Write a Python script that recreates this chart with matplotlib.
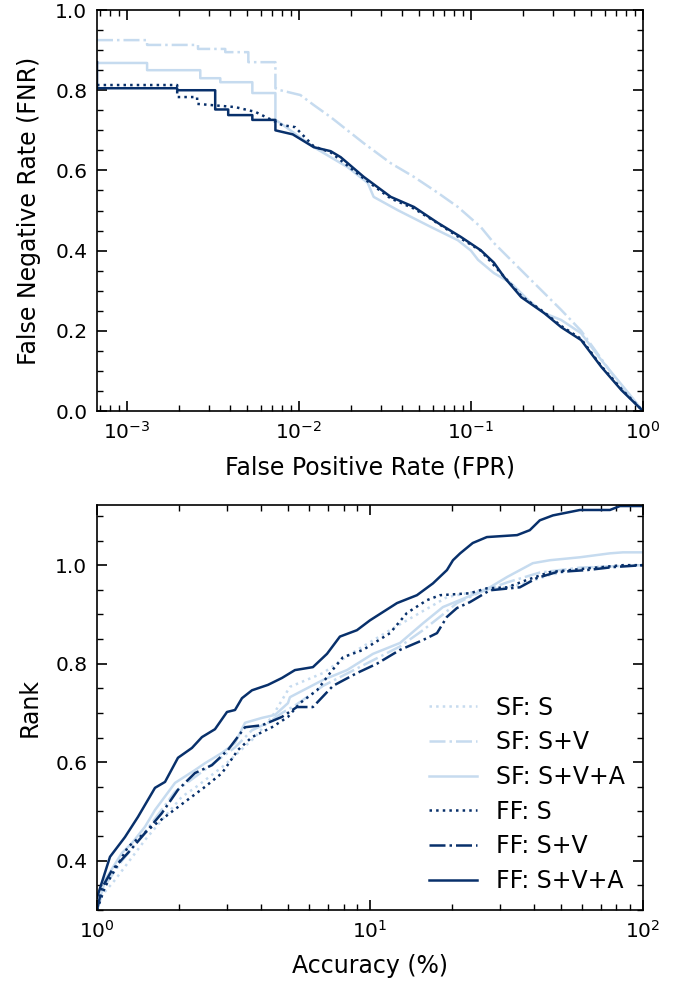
import matplotlib
matplotlib.use('Agg')
import matplotlib.pyplot as plt
from matplotlib.ticker import MultipleLocator

light = '#c6dbef'
dark = '#08306b'

# ---- top panel: DET curves (FPR vs FNR) ----
det_sf_sv_x = [6.7e-4, 1.31e-3, 1.31e-3, 2.59e-3, 2.59e-3, 3.73e-3, 3.73e-3, 5.08e-3, 5.08e-3,
               7.3e-3, 7.3e-3, 7.8e-3, 0.0102, 0.0122, 0.0153, 0.0238, 0.0342, 0.0466, 0.0643,
               0.0839, 0.114, 0.136, 0.215, 0.335, 0.437, 0.573, 0.75, 1.0]
det_sf_sv_y = [0.925, 0.925, 0.913, 0.913, 0.903, 0.903, 0.895, 0.895, 0.87,
               0.87, 0.805, 0.80, 0.788, 0.763, 0.733, 0.668, 0.618, 0.584, 0.544,
               0.509, 0.459, 0.419, 0.334, 0.252, 0.20, 0.13, 0.06, 0.0]

det_sf_sva_x = [6.7e-4, 1.31e-3, 1.31e-3, 2.67e-3, 2.67e-3, 3.49e-3, 3.49e-3, 5.36e-3, 5.36e-3,
                7.3e-3, 7.3e-3, 7.8e-3, 0.0122, 0.0192, 0.0251, 0.0272, 0.0375, 0.0585, 0.0839,
                0.1, 0.11, 0.136, 0.171, 0.215, 0.267, 0.335, 0.437, 0.573, 0.823, 1.0]
det_sf_sva_y = [0.868, 0.868, 0.85, 0.85, 0.83, 0.83, 0.82, 0.82, 0.793,
                0.793, 0.726, 0.718, 0.658, 0.608, 0.569, 0.534, 0.501, 0.459, 0.426,
                0.40, 0.377, 0.344, 0.319, 0.277, 0.244, 0.227, 0.194, 0.127, 0.045, 0.0]

det_ff_s_x = [6.7e-4, 1.96e-3, 1.96e-3, 2.56e-3, 2.56e-3, 4.26e-3, 5.58e-3, 8.0e-3, 9.5e-3,
              0.0122, 0.0153, 0.0238, 0.0342, 0.0466, 0.0643, 0.0875, 0.114, 0.156, 0.196,
              0.267, 0.335, 0.437, 0.573, 0.75, 1.0]
det_ff_s_y = [0.813, 0.813, 0.783, 0.783, 0.766, 0.758, 0.746, 0.713, 0.708,
              0.66, 0.645, 0.58, 0.53, 0.505, 0.468, 0.43, 0.40, 0.335, 0.287,
              0.246, 0.212, 0.18, 0.112, 0.055, 0.0]

det_ff_sva_x = [6.7e-4, 6.7e-4, 1.96e-3, 1.96e-3, 3.26e-3, 3.26e-3, 3.88e-3, 3.88e-3, 5.36e-3,
                5.36e-3, 7.3e-3, 7.3e-3, 9.2e-3, 0.0122, 0.0153, 0.0175, 0.0238, 0.0342, 0.0466,
                0.0643, 0.0875, 0.114, 0.136, 0.156, 0.196, 0.267, 0.335, 0.437, 0.573, 0.75, 1.0]
det_ff_sva_y = [0.87, 0.805, 0.805, 0.80, 0.80, 0.752, 0.752, 0.738, 0.738,
                0.726, 0.726, 0.70, 0.69, 0.658, 0.648, 0.633, 0.584, 0.534, 0.509,
                0.469, 0.434, 0.401, 0.37, 0.334, 0.284, 0.244, 0.209, 0.177, 0.11, 0.052, 0.0]

# ---- bottom panel: rank vs accuracy ----
acc_sf_s_x = [1.0, 1.043, 1.164, 1.499, 1.73, 2.048, 2.285, 2.871, 3.286, 3.792, 4.375, 4.76,
              5.09, 6.73, 8.5, 11.84, 13.66, 16.59, 19.14, 22.67, 27.5, 35.4, 45.6, 62.3, 100]
acc_sf_s_y = [0.30, 0.33, 0.361, 0.442, 0.483, 0.53, 0.548, 0.59, 0.619, 0.651, 0.692, 0.726,
              0.753, 0.781, 0.82, 0.868, 0.888, 0.915, 0.935, 0.943, 0.95, 0.96, 0.98, 0.995, 1.0]

acc_sf_sv_x = [1.0, 1.07, 1.235, 1.413, 1.631, 1.931, 2.285, 2.705, 3.203, 3.697, 4.23, 4.76,
               5.31, 6.73, 8.24, 10.26, 12.88, 15.64, 18.51, 20.83, 25.3, 31.8, 41.9, 58.8, 100]
acc_sf_sv_y = [0.30, 0.35, 0.40, 0.44, 0.485, 0.54, 0.57, 0.60, 0.63, 0.665, 0.68, 0.70,
               0.715, 0.755, 0.78, 0.807, 0.835, 0.868, 0.90, 0.923, 0.945, 0.965, 0.985, 0.995, 1.0]

acc_sf_sva_x = [1.0, 1.07, 1.235, 1.344, 1.499, 1.631, 1.931, 2.285, 2.487, 2.871, 3.203, 3.485,
                4.022, 4.487, 5.008, 5.09, 6.73, 8.24, 10.26, 12.88, 15.64, 18.51, 22.67, 27.5,
                31.8, 39.5, 45.6, 58.8, 75.7, 84.5, 100]
acc_sf_sva_y = [0.30, 0.361, 0.416, 0.436, 0.469, 0.503, 0.558, 0.584, 0.598, 0.619, 0.639, 0.68,
                0.69, 0.696, 0.72, 0.732, 0.767, 0.787, 0.82, 0.842, 0.882, 0.915, 0.935, 0.955,
                0.976, 1.004, 1.01, 1.016, 1.024, 1.026, 1.026]

acc_ff_s_x = [1.0, 1.07, 1.299, 1.59, 1.98, 2.487, 2.871, 3.286, 3.697, 4.375, 5.008, 5.54,
              6.40, 7.14, 7.96, 9.43, 11.84, 13.66, 16.18, 18.05, 23.25, 26.8, 31.8, 37.6,
              45.6, 64.0, 84.5, 100]
acc_ff_s_y = [0.30, 0.347, 0.428, 0.469, 0.509, 0.55, 0.578, 0.625, 0.651, 0.671, 0.692, 0.72,
              0.746, 0.781, 0.813, 0.828, 0.862, 0.903, 0.929, 0.939, 0.943, 0.953, 0.955, 0.97,
              0.986, 0.994, 1.0, 1.0]

acc_ff_sv_x = [1.0, 1.043, 1.135, 1.299, 1.499, 1.73, 1.98, 2.285, 2.637, 3.019, 3.485, 4.022,
               4.76, 5.40, 6.18, 7.32, 8.96, 10.61, 12.88, 15.64, 17.6, 19.14, 20.83, 23.25,
               27.5, 35.4, 40.9, 48.4, 62.3, 77.6, 100]
acc_ff_sv_y = [0.30, 0.345, 0.381, 0.416, 0.456, 0.497, 0.544, 0.578, 0.594, 0.625, 0.671, 0.675,
               0.692, 0.712, 0.712, 0.755, 0.781, 0.80, 0.828, 0.848, 0.862, 0.895, 0.913, 0.925,
               0.949, 0.955, 0.974, 0.986, 0.99, 0.996, 1.0]

acc_ff_sva_x = [1.0, 1.116, 1.266, 1.413, 1.631, 1.775, 1.98, 2.228, 2.424, 2.705, 2.994, 3.203,
                3.397, 3.697, 4.23, 4.76, 5.31, 6.18, 6.96, 7.76, 8.96, 10.0, 12.56, 14.86,
                17.01, 19.14, 20.14, 21.4, 23.8, 26.8, 34.6, 38.5, 41.9, 46.8, 58.8, 75.7, 82.4, 100]
acc_ff_sva_y = [0.325, 0.408, 0.448, 0.489, 0.548, 0.56, 0.609, 0.629, 0.651, 0.667, 0.702, 0.706,
                0.73, 0.746, 0.757, 0.771, 0.787, 0.793, 0.82, 0.855, 0.868, 0.888, 0.923, 0.939,
                0.963, 0.99, 1.01, 1.024, 1.045, 1.057, 1.061, 1.071, 1.091, 1.101, 1.112, 1.112,
                1.12, 1.12]

labels = ['SF: S', 'SF: S+V', 'SF: S+V+A', 'FF: S', 'FF: S+V', 'FF: S+V+A']
colors = [light, light, light, dark, dark, dark]
styles = [':', '-.', '-', ':', '-.', '-']

plt.rcParams['font.size'] = 14.5
plt.rcParams['xtick.direction'] = 'in'
plt.rcParams['ytick.direction'] = 'in'
plt.rcParams['xtick.top'] = True
plt.rcParams['ytick.right'] = True

fig = plt.figure(figsize=(6.85, 9.94), dpi=100)
ax1 = fig.add_axes([0.1416, 0.5865, 0.797, 0.4034])
ax2 = fig.add_axes([0.1416, 0.0845, 0.797, 0.4074])

lw = 1.8
label_fs = 17
ax1.plot(det_sf_sv_x, det_sf_sv_y, color=light, ls='-.', lw=lw)
ax1.plot(det_sf_sva_x, det_sf_sva_y, color=light, ls='-', lw=lw)
ax1.plot(det_ff_s_x, det_ff_s_y, color=dark, ls=':', lw=lw)
ax1.plot(det_ff_sva_x, det_ff_sva_y, color=dark, ls='-', lw=lw)
ax1.set_xscale('log')
ax1.set_xlim(6.7e-4, 1.0)
ax1.set_ylim(0, 1.0)
ax1.yaxis.set_major_locator(MultipleLocator(0.2))
ax1.yaxis.set_minor_locator(MultipleLocator(0.05))
ax1.set_xlabel('False Positive Rate (FPR)', fontsize=label_fs, labelpad=9)
ax1.set_ylabel('False Negative Rate (FNR)', fontsize=label_fs, labelpad=10)

series_x = [acc_sf_s_x, acc_sf_sv_x, acc_sf_sva_x, acc_ff_s_x, acc_ff_sv_x, acc_ff_sva_x]
series_y = [acc_sf_s_y, acc_sf_sv_y, acc_sf_sva_y, acc_ff_s_y, acc_ff_sv_y, acc_ff_sva_y]
for xs, ys, c, s, lab in zip(series_x, series_y, colors, styles, labels):
    ax2.plot(xs, ys, color=c, ls=s, lw=lw, label=lab)
ax2.set_xscale('log')
ax2.set_xlim(1, 100)
ax2.set_ylim(0.30, 1.122)
ax2.yaxis.set_major_locator(MultipleLocator(0.2))
ax2.yaxis.set_minor_locator(MultipleLocator(0.05))
ax2.set_xlabel('Accuracy (%)', fontsize=label_fs, labelpad=9)
ax2.set_ylabel('Rank', fontsize=label_fs, labelpad=10)
ax2.legend(loc='lower right', frameon=False, fontsize=label_fs, handlelength=2.0,
           handletextpad=0.8, labelspacing=0.45, bbox_to_anchor=(1.005, -0.01))

for ax in (ax1, ax2):
    ax.tick_params(which='major', length=7, width=1.2, pad=7)
    ax.tick_params(which='minor', length=4, width=1.0)
    ax.tick_params(which='both', top=True, right=True)
    for sp in ax.spines.values():
        sp.set_linewidth(1.2)

fig.savefig('out.png', dpi=100)
